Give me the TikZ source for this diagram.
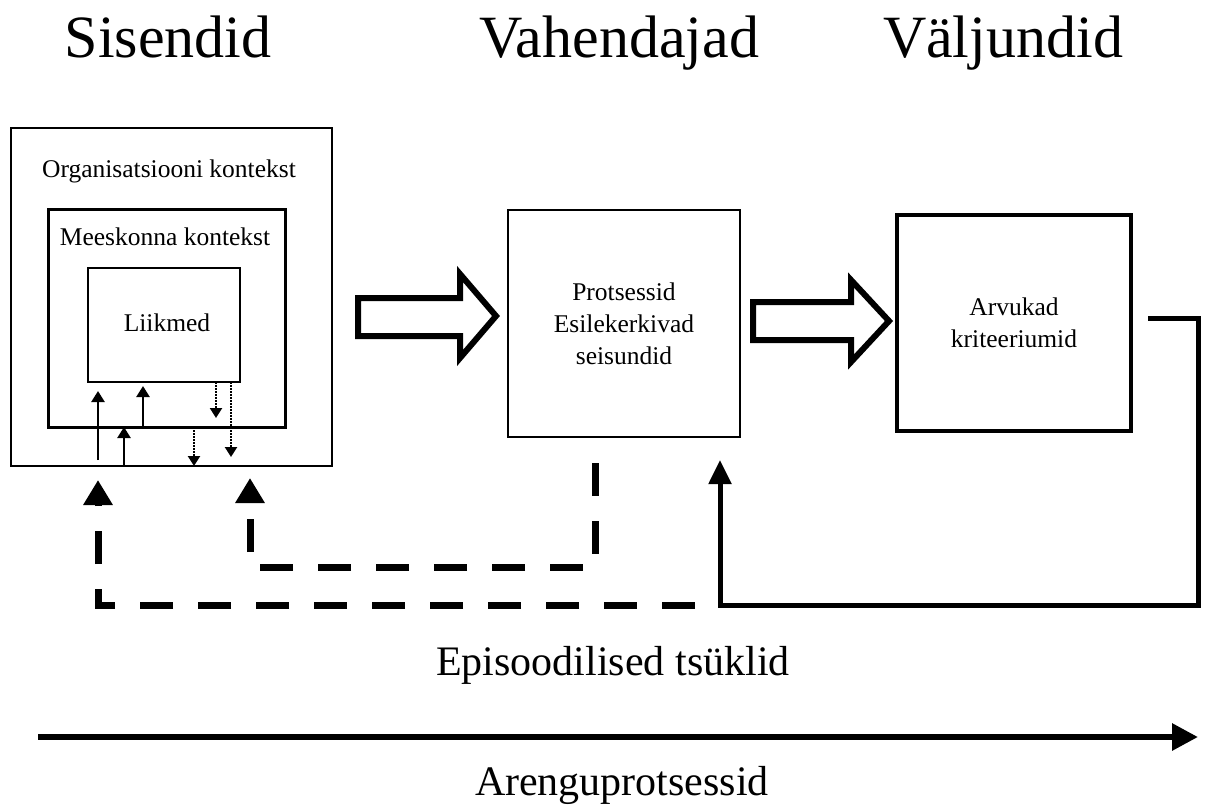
\documentclass[tikz,border=0pt]{standalone}
\usepackage{fontspec}
\setmainfont{Liberation Serif}
\usetikzlibrary{arrows.meta}
\begin{document}
\begin{tikzpicture}[x=1pt,y=-1pt,
  rbox/.style={draw, inner sep=0pt, outer sep=0pt, line width=#1},
  lbl/.style={font=\fontsize{25.5}{32}\selectfont, anchor=base, inner sep=0pt},
  boxtext/.style={font=\fontsize{25.5}{32}\selectfont, align=center},
  title/.style={font=\fontsize{60}{66}\selectfont, anchor=base, inner sep=0pt},
  bigtext/.style={font=\fontsize{42}{48}\selectfont, anchor=base, inner sep=0pt},
  sol/.style={line width=2.4pt, -{Triangle[length=11pt,width=13pt]}},
  dotarr/.style={line width=2.2pt, dash pattern=on 1.6pt off 1.4pt, -{Triangle[length=10pt,width=12pt]}},
  hollow/.style={draw, line width=6pt, line join=miter, fill=white},
  dasharr/.style={line width=7pt, dash pattern=on 33pt off 25pt, -{Triangle[length=25pt,width=28pt]}},
  fb/.style={line width=5pt, line join=miter, -{Triangle[length=24pt,width=22pt]}},
  dev/.style={line width=6pt, -{Triangle[length=26pt,width=26pt]}}
]
\useasboundingbox (0,0) rectangle (1205,807);

% titles
\node[title] (t1) at (168,57) {Sisendid};
\node[title] (t2) at (619,57) {Vahendajad};
\node[title] (t3) at (1003,57) {Väljundid};

% left nested boxes
\node[rbox=2.5pt, minimum width=321pt, minimum height=338pt] (org) at (171.5,297) {};
\node[rbox=3pt, minimum width=237pt, minimum height=218pt] (team) at (166.5,318) {};
\node[rbox=2.8pt, minimum width=152pt, minimum height=114pt] (mem) at (164,325) {};
\node[lbl] (orgl) at (169,177) {Organisatsiooni kontekst};
\node[lbl] (teaml) at (165,245) {Meeskonna kontekst};
\node[lbl] (meml) at (167,331) {Liikmed};

% middle and right boxes
\node[rbox=2.2pt, minimum width=232pt, minimum height=227pt, boxtext] (proc) at (624,323.5) {Protsessid\\Esilekerkivad\\seisundid};
\node[rbox=3.2pt, minimum width=234pt, minimum height=216pt, boxtext] (out) at (1014,323) {Arvukad\\kriteeriumid};

% small arrows inside left box
\draw[sol] (98,460) -- (98,391);
\draw[sol] (124,0 |- org.south) -- (124,0 |- team.south);
\draw[sol] (143,0 |- team.south) -- (143,386);
\draw[dotarr] (216,0 |- mem.south) -- (216,418);
\draw[dotarr] (231,0 |- mem.south) -- (231,457);
\draw[dotarr] (194,0 |- team.south) -- (194,0 |- org.south);

% hollow arrows
\draw[hollow] (358,298) -- (460,298) -- (460,274) -- (496,316) -- (460,358) -- (460,336) -- (358,336) -- cycle;
\draw[hollow] (753,302) -- (851,302) -- (851,280) -- (889,321) -- (851,362) -- (851,340) -- (753,340) -- cycle;

% feedback from outputs
\coordinate (fbs) at (1148,318);
\coordinate (fbe) at (720,460);
\draw[fb] (fbs) -- (1198,318) -- (1198,605) -- (720,605) -- (fbe);

% dashed feedback
\coordinate (d1s) at (595,463);
\coordinate (d1e) at (250,478);
\coordinate (d2s) at (695,605);
\coordinate (d2e) at (98,480);
\draw[dasharr] (d1s) -- (595,567) -- (250,567) -- (d1e);
\draw[dasharr] (d2s) -- (98,605) -- (d2e);

% bottom texts and arrow
\node[bigtext] (ep) at (613,675) {Episoodilised tsüklid};
\coordinate (devs) at (38,737);
\coordinate (deve) at (1198,737);
\draw[dev] (devs) -- (deve);
\node[bigtext] (ar) at (622,795) {Arenguprotsessid};
\end{tikzpicture}
\end{document}
